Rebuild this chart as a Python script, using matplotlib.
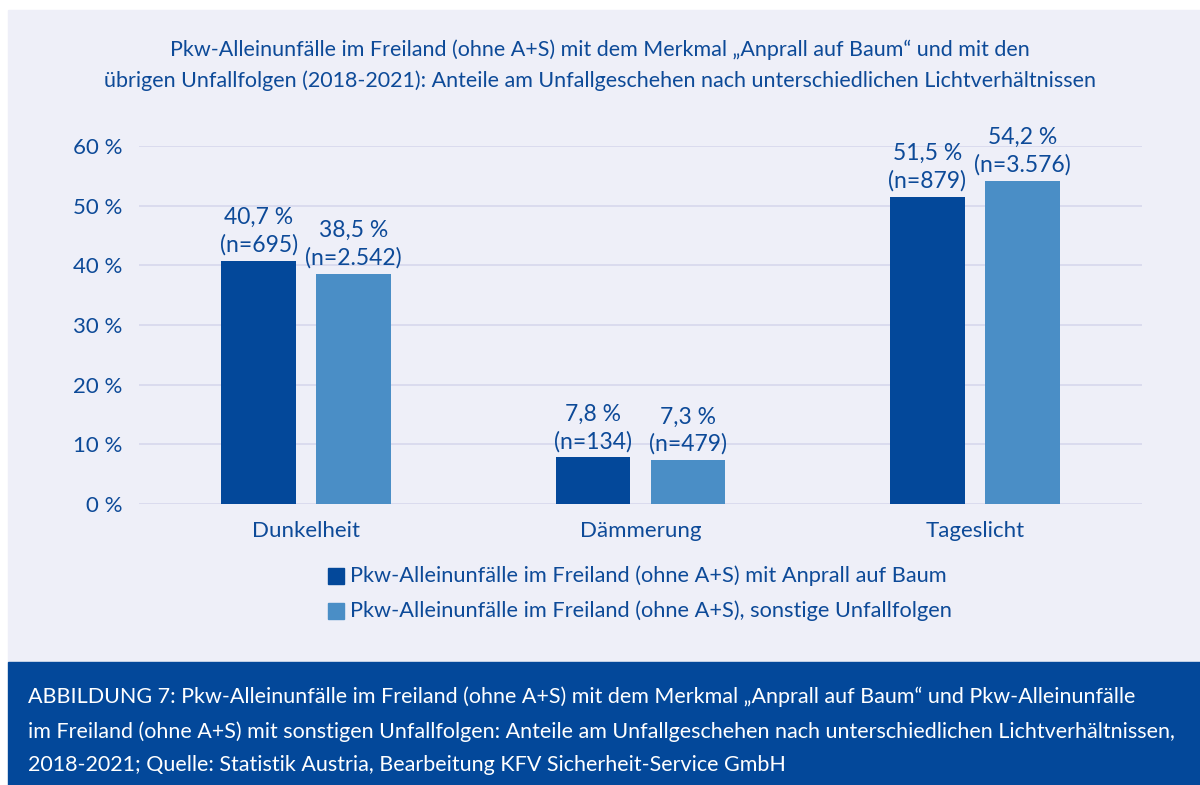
import matplotlib
matplotlib.use("Agg")
import matplotlib.pyplot as plt
import numpy as np
from matplotlib.patches import Rectangle

plt.rcParams['font.family'] = ['Lato', 'DejaVu Sans']

categories = ['Dunkelheit', 'Dämmerung', 'Tageslicht']
baum = [40.7, 7.8, 51.5]
baum_n = ['695', '134', '879']
sonst = [38.5, 7.3, 54.2]
sonst_n = ['2.542', '479', '3.576']
yticks = [0, 10, 20, 30, 40, 50, 60]

dark = '#03489a'
light = '#4a8ec6'
text_c = '#0d4a98'
bg = '#eeeff8'

fig = plt.figure(figsize=(12, 7.85), dpi=100)
fig.patch.set_facecolor('white')
# background panels
fig.patches.append(Rectangle((8/1200, 1 - 662/785), 1 - 8/1200, (662-10)/785,
                             transform=fig.transFigure, color=bg, zorder=-5))
fig.patches.append(Rectangle((8/1200, 0), 1 - 8/1200, 1 - 662/785,
                             transform=fig.transFigure, color=dark, zorder=-5))

ax = fig.add_axes([139/1200, 1 - 504/785, (1142-139)/1200, (504-146)/785])
ax.set_zorder(2)
ax.set_facecolor('none')
x = np.arange(len(categories))
w = 0.224
off = 0.142
ax.bar(x - off, baum, w, color=dark, zorder=3)
ax.bar(x + off, sonst, w, color=light, zorder=3)

def fmt(v):
    return ('%.1f' % v).replace('.', ',') + ' %'

for i in range(len(categories)):
    ax.text(x[i] - off, baum[i] + 0.9, fmt(baum[i]) + '\n(n=' + baum_n[i] + ')',
            ha='center', va='bottom', fontsize=16.5, color=text_c, linespacing=1.35)
    ax.text(x[i] + off, sonst[i] + 0.9, fmt(sonst[i]) + '\n(n=' + sonst_n[i] + ')',
            ha='center', va='bottom', fontsize=16.5, color=text_c, linespacing=1.35)

ax.set_xlim(-0.5, 2.5)
ax.set_ylim(0, 60)
ax.set_yticks(yticks)
ax.set_yticklabels([str(t) + ' %' for t in yticks])
ax.set_xticks(x)
ax.set_xticklabels(categories)
ax.grid(axis='y', color='#d6d7ec', linewidth=1.2, zorder=0)
ax.tick_params(axis='both', length=0, labelsize=16, labelcolor=text_c)
ax.tick_params(axis='y', pad=12)
ax.tick_params(axis='x', pad=12)
for s in ax.spines.values():
    s.set_visible(False)

fig.text(0.5, 1 - 65/785,
         'Pkw-Alleinunfälle im Freiland (ohne A+S) mit dem Merkmal „Anprall auf Baum“ und mit den\n'
         'übrigen Unfallfolgen (2018-2021): Anteile am Unfallgeschehen nach unterschiedlichen Lichtverhältnissen',
         ha='center', va='center', fontsize=15.5, color=text_c, linespacing=1.6)

# legend
leg_labels = ['Pkw-Alleinunfälle im Freiland (ohne A+S) mit Anprall auf Baum',
              'Pkw-Alleinunfälle im Freiland (ohne A+S), sonstige Unfallfolgen']
for j, (lab, col) in enumerate(zip(leg_labels, [dark, light])):
    yc = 1 - (576 + 35*j)/785
    fig.patches.append(Rectangle((328/1200, yc - 8/785), 16/1200, 16/785,
                                 transform=fig.transFigure, color=col))
    fig.text(350/1200, yc, lab, ha='left', va='center', fontsize=15.7, color=text_c)

caption = ('ABBILDUNG 7: Pkw-Alleinunfälle im Freiland (ohne A+S) mit dem Merkmal „Anprall auf Baum“ und Pkw-Alleinunfälle\n'
           'im Freiland (ohne A+S) mit sonstigen Unfallfolgen: Anteile am Unfallgeschehen nach unterschiedlichen Lichtverhältnissen,\n'
           '2018-2021; Quelle: Statistik Austria, Bearbeitung KFV Sicherheit-Service GmbH')
fig.text(28/1200, 1 - 731/785, caption, ha='left', va='center', fontsize=15.5,
         color='white', linespacing=1.85)

fig.savefig('out.png', dpi=100, facecolor=fig.get_facecolor())
